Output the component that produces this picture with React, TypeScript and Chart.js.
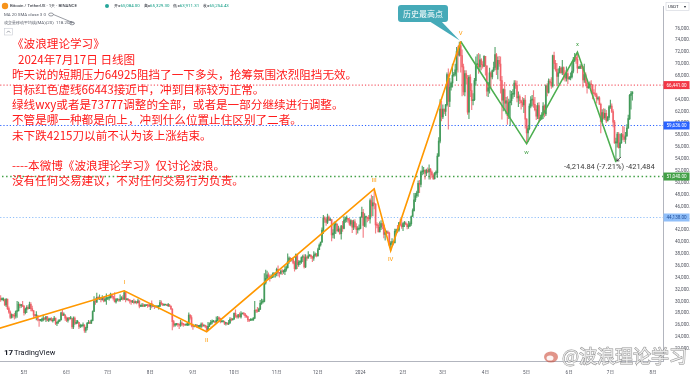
import { useEffect, useRef } from 'react';
import { Chart, registerables } from 'chart.js';
Chart.register(...registerables);

// Daily BTC/USDT candles (in thousands USDT), index 0 = 2023-04-14 ... 460 = 2024-07-17
const FIRST_OPEN = 30.5;
const closes = [
  // Apr 2023 (14-30)
  30.3,30.3,30.3,29.4,30.4,28.8,28.2,27.3,27.8,27.6,27.5,28.3,28.4,29.5,29.3,29.3,29.2,
  // May 2023
  28.1,28.7,29.0,28.8,29.5,28.8,28.4,27.7,27.6,27.6,27.0,26.8,26.8,26.9,27.2,27.0,27.4,26.8,26.9,27.1,26.7,26.8,27.2,26.3,26.5,26.7,26.9,28.1,27.7,27.7,27.2,
  // Jun 2023
  26.8,27.2,27.1,27.1,25.7,27.2,26.3,26.5,26.5,25.8,25.9,25.9,26.0,25.1,25.6,26.3,26.5,26.3,26.8,28.3,30.0,29.9,30.7,30.5,30.5,30.3,30.7,30.1,30.4,30.5,
  // Jul 2023
  30.6,30.6,31.2,30.8,30.5,29.9,30.3,30.3,30.2,30.4,30.6,30.4,31.5,30.3,30.3,30.2,30.1,29.9,29.9,29.8,29.9,29.8,30.1,29.2,29.2,29.4,29.2,29.3,29.4,29.3,29.2,
  // Aug 2023
  29.7,29.2,29.2,29.1,29.1,29.1,29.2,29.8,29.6,29.4,29.4,29.4,29.3,29.4,29.2,28.7,26.6,26.0,26.1,26.2,26.1,26.0,26.4,26.2,26.1,26.0,26.1,26.1,27.7,27.3,25.9,
  // Sep 2023
  25.8,25.9,26.0,25.8,25.8,25.8,26.2,25.9,25.9,25.8,25.2,25.8,26.2,26.5,26.6,26.6,26.5,26.8,27.2,27.1,26.6,26.6,26.6,26.3,26.3,26.2,26.4,27.0,26.9,27.0,
  // Oct 2023
  28.0,27.5,27.4,27.8,27.4,27.9,28.0,27.9,27.6,27.4,26.9,26.8,26.9,26.9,27.2,28.5,28.4,28.3,28.7,29.7,29.9,30.0,33.1,33.9,34.5,34.2,33.9,34.1,34.5,34.5,34.7,
  // Nov 2023
  35.4,34.9,34.7,35.1,35.0,35.0,35.4,35.7,36.7,37.3,37.1,37.1,36.5,35.5,37.9,36.2,36.6,36.6,37.4,37.5,35.8,37.4,37.3,37.7,37.8,37.5,37.3,37.8,37.9,37.7,
  // Dec 2023
  38.7,39.5,40.0,42.0,44.1,43.8,43.3,44.2,43.7,43.8,41.2,41.5,42.9,43.0,41.9,42.2,41.4,42.7,42.3,43.7,43.9,44.0,43.7,43.0,43.6,42.5,43.4,42.6,42.1,42.2,42.3,
  // Jan 2024
  44.2,45.0,42.8,44.2,44.2,44.0,43.9,47.0,46.1,46.6,46.4,42.9,42.8,41.7,42.5,43.1,42.8,41.3,41.6,41.7,41.5,39.5,39.8,40.1,39.9,41.8,42.1,42.0,43.3,42.9,42.6,
  // Feb 2024
  43.1,43.2,43.0,42.6,42.7,43.1,44.3,45.3,47.1,47.8,48.3,49.9,49.7,51.8,51.9,52.1,51.6,52.1,51.8,52.3,51.8,51.3,50.7,51.6,51.7,54.5,57.0,62.4,61.1,
  // Mar 2024
  62.4,62.0,63.1,68.2,63.7,66.1,66.8,68.1,68.3,69.0,72.1,71.5,73.1,71.4,69.5,65.3,68.4,67.6,61.9,67.8,65.5,63.8,64.0,67.2,69.9,70.0,69.5,70.7,69.9,69.6,71.3,
  // Apr 2024
  69.7,65.4,66.0,68.5,67.8,68.9,69.4,71.6,69.1,70.6,70.0,67.2,63.9,65.7,63.4,63.8,61.3,63.5,63.8,64.9,64.9,66.8,66.4,64.3,64.5,63.8,63.5,63.1,63.9,60.7,
  // May 2024
  58.4,59.1,62.9,63.9,64.0,63.2,62.3,61.2,63.0,60.8,60.8,61.4,62.9,61.6,66.3,65.2,67.1,66.9,66.3,71.4,70.1,69.1,67.9,68.5,69.3,68.5,69.4,68.3,67.6,68.4,67.5,
  // Jun 2024
  67.7,67.8,68.8,70.6,71.1,70.8,69.3,69.3,69.6,69.5,67.3,68.2,66.8,66.0,66.2,66.6,66.5,65.1,65.0,64.8,64.1,64.3,63.2,60.3,61.8,60.9,61.7,60.4,61.0,62.8,
  // Jul 2024 (1-17)
  62.9,62.0,60.2,56.7,56.7,58.2,55.9,56.7,58.1,57.7,57.3,57.9,59.2,60.8,64.7,65.0,65.3,
];
const highs = [
  31.0,30.6,30.6,30.3,30.5,30.4,29.1,28.4,27.9,27.8,28.0,28.4,30.0,29.9,29.6,29.5,30.0,
  29.3,28.9,29.3,29.3,29.9,29.8,29.2,28.5,27.8,28.3,27.6,27.0,27.0,27.2,27.7,27.3,27.5,27.5,27.2,27.2,27.3,27.1,27.5,27.2,26.6,26.9,26.9,28.2,28.5,28.1,27.8,
  27.4,27.3,27.3,27.5,27.1,27.4,27.4,26.8,26.8,26.5,26.2,26.0,26.4,26.1,25.7,26.5,26.8,26.7,26.9,28.4,30.8,30.5,31.4,30.8,31.1,30.7,31.0,30.7,30.8,31.3,
  30.7,30.8,31.4,31.3,30.9,31.5,30.5,30.4,30.4,31.1,30.8,31.0,31.8,31.6,30.4,30.5,30.3,30.2,30.2,30.4,30.1,30.0,30.4,30.1,29.4,29.7,29.6,29.5,29.4,29.5,29.5,
  29.7,30.1,29.4,29.3,29.2,29.2,29.3,30.2,30.1,29.7,29.5,29.5,29.5,29.7,29.5,29.2,28.8,26.8,26.3,26.3,26.3,26.1,26.8,26.6,26.3,26.1,26.2,26.3,28.1,27.8,27.6,
  26.2,26.0,26.1,26.1,25.9,26.0,26.4,26.4,25.9,26.0,25.9,26.5,26.4,26.8,26.9,26.8,26.6,27.4,27.5,27.4,27.2,26.7,26.6,26.7,26.4,26.4,26.8,27.3,27.2,27.1,
  28.1,28.6,27.7,27.8,28.1,28.3,28.0,28.1,28.0,27.7,27.5,26.9,27.1,27.0,27.3,30.0,28.6,29.0,28.9,30.2,30.4,30.3,34.7,35.3,35.1,34.8,34.5,34.5,34.8,34.9,34.7,
  35.6,36.0,34.9,35.3,35.4,35.3,35.9,36.0,38.0,37.5,37.4,37.2,37.4,36.8,38.0,37.9,36.9,36.9,37.5,37.8,37.9,37.9,37.7,38.4,37.9,37.8,37.6,38.4,38.2,38.1,
  39.0,39.7,40.0,42.4,44.5,44.3,44.1,44.7,44.4,44.0,43.8,42.1,43.4,43.4,43.1,42.7,42.4,42.8,43.5,44.3,44.2,44.4,44.0,44.0,43.8,43.6,43.7,43.8,43.1,42.6,42.9,
  44.2,45.9,45.5,44.8,44.3,44.2,44.5,47.3,47.9,47.7,49.0,46.5,43.3,43.1,43.4,43.6,43.2,42.9,42.2,41.9,41.9,41.7,40.1,40.6,40.1,42.2,42.2,42.8,43.3,43.9,43.8,
  43.3,43.5,43.4,43.1,43.5,43.4,44.4,45.6,48.2,48.2,48.6,50.3,50.4,52.0,52.8,52.6,52.2,52.3,52.5,53.0,52.4,52.0,51.5,51.7,52.0,54.9,57.6,64.0,63.7,
  63.1,62.4,63.2,68.5,69.2,67.6,67.0,70.0,68.6,70.0,72.8,73.0,73.7,73.8,72.4,70.0,68.9,68.9,68.1,68.1,68.2,66.7,65.0,67.6,71.2,71.6,71.8,71.6,70.9,70.4,71.4,
  71.3,69.7,66.9,69.3,68.7,69.0,70.3,72.8,71.8,71.2,71.3,71.2,67.9,65.8,66.9,64.4,64.5,64.1,65.5,65.4,65.7,67.2,67.2,67.1,65.3,64.8,63.9,64.4,64.2,64.7,
  60.8,59.6,63.3,64.5,64.7,65.5,64.4,63.0,63.4,63.5,61.4,61.8,63.5,63.1,66.5,66.7,67.5,67.4,67.7,71.5,72.0,70.6,70.1,69.2,69.6,69.5,70.6,69.5,68.9,69.5,69.0,
  67.9,68.5,70.3,71.1,71.8,71.6,72.0,69.6,69.9,70.2,69.6,70.0,68.5,67.3,66.4,67.0,67.2,66.5,65.7,66.5,65.1,64.5,64.5,63.4,62.3,62.5,62.4,62.2,61.2,63.0,
  63.9,63.3,62.3,60.5,57.5,58.5,58.5,58.2,58.3,59.5,59.4,58.5,59.8,61.4,64.9,65.4,65.3,
];
const lows = [
  30.0,30.2,30.1,29.3,29.1,28.6,28.0,27.1,27.2,27.3,27.0,27.2,27.3,28.4,28.9,29.0,29.1,
  27.7,27.9,28.1,28.7,28.8,28.4,28.4,27.3,27.4,26.9,26.7,25.8,26.7,26.6,26.7,26.9,26.6,26.7,26.6,26.9,26.7,26.5,26.8,26.1,25.9,26.3,26.6,26.9,27.6,27.6,26.8,
  26.6,26.5,26.9,27.0,25.4,25.4,26.1,26.2,26.3,25.4,25.6,25.7,25.7,24.8,24.8,25.2,26.3,26.3,26.3,26.7,28.3,29.5,29.8,30.3,30.3,29.9,30.2,29.9,30.0,29.5,
  30.3,30.2,30.6,30.6,30.2,29.9,29.7,30.1,30.0,30.0,30.3,30.2,30.3,29.9,30.2,30.1,29.7,29.5,29.8,29.6,29.7,29.6,29.7,28.9,29.1,29.1,29.1,29.1,29.3,29.0,29.1,
  28.6,28.9,29.1,28.8,29.0,29.0,28.7,29.1,29.4,29.3,29.3,29.4,29.3,29.1,29.1,28.7,25.2,25.7,25.8,26.0,25.8,25.4,25.8,25.9,25.8,26.0,26.0,25.9,25.9,27.0,25.7,
  25.3,25.7,25.8,25.6,25.6,25.4,25.6,25.7,25.8,25.6,24.9,25.1,25.8,26.1,26.2,26.5,26.4,26.4,26.7,26.9,26.4,26.5,26.5,26.1,26.0,26.1,26.1,26.3,26.7,26.9,
  27.0,27.3,27.2,27.2,27.4,27.2,27.9,27.7,27.3,27.3,26.6,26.6,26.8,26.8,26.8,27.1,28.1,28.2,28.3,28.6,29.5,29.7,29.9,32.9,33.7,33.7,33.4,33.9,34.0,34.1,34.1,
  34.3,34.3,34.1,34.6,34.5,34.7,34.5,35.1,35.6,36.4,36.7,36.8,36.3,35.1,35.4,35.5,35.9,36.2,36.4,36.7,35.6,35.7,36.9,37.3,37.6,37.2,36.7,36.9,37.6,37.5,
  37.6,38.7,39.3,40.0,41.4,43.3,42.8,43.1,43.6,43.6,40.2,40.7,40.6,41.4,41.7,41.7,41.3,40.5,41.8,42.2,43.3,43.4,43.3,42.8,42.7,41.6,42.1,42.3,41.3,41.5,42.0,
  42.2,44.2,40.8,42.6,42.5,43.4,43.6,43.2,44.3,44.4,45.6,41.5,42.4,41.7,41.7,42.1,42.2,40.7,40.3,41.4,41.4,39.4,38.6,39.5,39.5,39.8,41.4,41.6,41.8,42.7,42.3,
  41.9,42.6,42.9,42.2,42.3,42.6,42.8,44.3,45.2,46.8,47.5,47.7,48.3,49.3,51.3,51.5,50.6,51.2,51.7,50.6,50.6,50.9,50.5,50.6,51.3,50.9,54.4,56.7,60.4,
  60.8,61.6,61.3,62.9,59.0,62.8,65.6,66.1,67.9,68.0,67.2,68.6,71.3,68.6,64.6,64.8,64.6,66.6,61.5,60.8,64.5,62.3,63.1,63.8,66.4,69.3,68.4,68.9,69.0,69.3,69.6,
  68.1,64.6,64.5,65.1,66.0,67.5,68.7,69.0,68.2,67.5,69.6,65.1,60.7,62.1,62.3,61.6,59.8,60.8,59.6,63.1,64.2,64.5,65.9,63.6,62.8,63.3,62.4,62.8,61.8,59.2,
  56.6,56.9,58.9,62.6,62.9,62.7,62.1,60.6,60.8,60.2,60.5,60.6,60.8,61.1,61.3,64.6,65.1,66.6,65.9,66.1,69.2,68.8,66.3,66.6,68.5,68.5,68.2,67.3,67.1,67.1,66.7,
  67.4,67.3,67.6,68.5,70.4,70.1,68.5,69.2,69.2,69.2,66.1,66.9,66.3,65.1,65.9,66.0,65.1,64.1,64.7,64.5,63.4,63.9,63.2,58.4,60.3,60.7,60.6,60.1,60.4,60.6,
  62.5,61.8,59.4,56.6,53.5,56.0,55.8,54.3,56.6,57.2,56.9,56.6,57.8,59.2,60.6,62.4,63.9,
];

// Time axis: month starts (day index) and their labels
const monthTickIdx = [17, 48, 78, 109, 140, 170, 201, 231, 262, 293, 322, 353, 383, 414, 444, 475];
const monthTickLabels = ['5月', '6月', '7月', '8月', '9月', '10月', '11月', '12月', '2024', '2月', '3月', '4月', '5月', '6月', '7月', '8月'];
// Price axis ticks (thousands)
const priceTicks = [22, 24, 26, 28, 30, 32, 34, 36, 38, 40, 42, 44, 46, 48, 50, 52, 54, 56, 58, 60, 62, 64, 66, 68, 70, 72, 74, 76];

// Elliott wave drawings
const orangeWaveIdx = [-144, 90, 150, 272, 284, 335];
const orangeWaveVal = [15.48, 31.8, 24.9, 48.97, 38.56, 73.78];
const orangeWaveLabels = ['', 'I', 'II', 'III', 'IV', 'V'];
const greenWaveIdx = [335, 383, 420, 448];
const greenWaveVal = [73.78, 56.55, 72.0, 53.49];
const greenWaveLabels = ['', 'w', 'x', ''];

// Horizontal levels
const levelValues = [66.441, 59.636, 51.04, 44.138];
const levelLabels = ['66,441.00', '59,636.00', '51,040.00', '44,138.00'];
const levelColors = ['#f23645', '#2962ff', '#43a047', '#90bff9'];
const levelTextColors = ['#ffffff', '#ffffff', '#ffffff', '#1e4d9a'];

const noteLines = [
  '《波浪理论学习》',
  '2024年7月17日 日线图',
  '昨天说的短期压力64925阻挡了一下多头，抢筹氛围浓烈阻挡无效。',
  '目标红色虚线66443接近中，冲到目标较为正常。',
  '绿线wxy或者是73777调整的全部，或者是一部分继续进行调整。',
  '不管是哪一种都是向上，冲到什么位置止住区别了二者。',
  '未下跌4215刀以前不认为该上涨结束。',
  '',
  '----本微博《波浪理论学习》仅讨论波浪。',
  '没有任何交易建议，不对任何交易行为负责。',
];

const UP = 'rgba(60,150,85,0.85)';
const DOWN = 'rgba(240,85,95,0.75)';
const CJK = '"Noto Sans CJK SC", sans-serif';

const overlayPlugin = {
  id: 'overlay',
  afterDraw(chart: any) {
    const { ctx, chartArea: ca, scales } = chart;
    const xs = scales.x;
    const ys = scales.y;
    ctx.save();

    // wave labels
    const waveLabels = (idx: number[], val: number[], labels: string[], color: string) => {
      ctx.fillStyle = color;
      ctx.font = '6px Roboto';
      ctx.textAlign = 'center';
      ctx.textBaseline = 'middle';
      labels.forEach((lab, i) => {
        if (!lab) return;
        const px = xs.getPixelForValue(idx[i]);
        const py = ys.getPixelForValue(val[i]);
        const up = i > 0 && val[i] > val[i - 1];
        ctx.fillText(lab, px, py + (up ? -8 : 9));
      });
    };
    waveLabels(orangeWaveIdx, orangeWaveVal, orangeWaveLabels, '#ff9800');
    waveLabels(greenWaveIdx, greenWaveVal, greenWaveLabels, '#43a047');

    // callout 历史最高点
    const vx = xs.getPixelForValue(orangeWaveIdx[5]);
    const vy = ys.getPixelForValue(orangeWaveVal[5]);
    ctx.fillStyle = '#45aab8';
    ctx.beginPath();
    ctx.moveTo(429, 21);
    ctx.lineTo(441, 21);
    ctx.lineTo(vx - 1, vy - 1);
    ctx.closePath();
    ctx.fill();
    ctx.beginPath();
    (ctx as any).roundRect(398, 5, 50, 17, 3);
    ctx.fill();
    ctx.fillStyle = '#ffffff';
    ctx.font = `8px ${CJK}`;
    ctx.textAlign = 'center';
    ctx.textBaseline = 'middle';
    ctx.fillText('历史最高点', 423, 13.5);

    // measurement text and arrow
    ctx.save();
    ctx.beginPath();
    ctx.rect(ca.left, ca.top, ca.right - ca.left, ca.bottom - ca.top);
    ctx.clip();
    ctx.fillStyle = '#3a3a3a';
    ctx.font = '7.5px Roboto';
    ctx.textAlign = 'left';
    ctx.fillText('-4,214.84 (-7.21%) -421,484', 564, 167);
    const yx = xs.getPixelForValue(greenWaveIdx[3]);
    const yy = ys.getPixelForValue(greenWaveVal[3]);
    ctx.strokeStyle = '#222';
    ctx.lineWidth = 0.8;
    ctx.beginPath();
    ctx.moveTo(yx + 5, yy - 5);
    ctx.lineTo(yx + 1, yy - 1);
    ctx.moveTo(yx + 1, yy - 1);
    ctx.lineTo(yx + 3.5, yy - 1.2);
    ctx.moveTo(yx + 1, yy - 1);
    ctx.lineTo(yx + 1.2, yy - 3.5);
    ctx.stroke();
    ctx.restore();

    // level labels on price axis
    ctx.font = '4.6px Roboto';
    ctx.textAlign = 'left';
    ctx.textBaseline = 'middle';
    levelValues.forEach((v, i) => {
      const py = ys.getPixelForValue(v);
      ctx.fillStyle = levelColors[i];
      ctx.fillRect(ca.right + 0.5, py - 4, 26, 8);
      ctx.fillStyle = levelTextColors[i];
      ctx.fillText(levelLabels[i], ca.right + 3.5, py + 0.3);
    });

    // USDT box
    ctx.strokeStyle = '#d1d4dc';
    ctx.lineWidth = 0.6;
    ctx.strokeRect(666, 2.5, 23, 8);
    ctx.fillStyle = '#131722';
    ctx.font = '4.3px Roboto';
    ctx.fillText('USDT', 668, 6.7);
    ctx.fillText('▾', 684, 6.7);

    // header
    ctx.fillStyle = '#f7931a';
    ctx.beginPath();
    ctx.arc(5, 6, 3.2, 0, Math.PI * 2);
    ctx.fill();
    ctx.fillStyle = '#131722';
    ctx.font = `4.4px Roboto`;
    ctx.fillText('Bitcoin / TetherUS · 1天 · BINANCE', 10, 6.3);
    ctx.fillStyle = '#26a69a';
    ctx.beginPath();
    ctx.arc(107, 6, 2, 0, Math.PI * 2);
    ctx.fill();
    const ohlc = [['开', '65,084.00'], ['高', '65,329.30'], ['低', '63,911.31'], ['收', '65,254.43']];
    let hx = 114;
    ohlc.forEach(([k, v]) => {
      ctx.fillStyle = '#131722';
      ctx.fillText(k + '=', hx, 6.3);
      hx += ctx.measureText(k + '=').width;
      ctx.fillStyle = '#089981';
      ctx.fillText(v, hx, 6.3);
      hx += ctx.measureText(v).width + 4;
    });
    ctx.fillStyle = '#555a66';
    ctx.fillText('MA 20 SMA close 3 0', 4, 14.5);
    ctx.fillText('成交量移动平均线(MA)(20)  118.203', 4, 23.3);
    ctx.strokeStyle = '#555a66';
    ctx.lineWidth = 0.6;
    ctx.beginPath();
    ctx.ellipse(51, 14.5, 2.4, 1.5, 0, 0, Math.PI * 2);
    ctx.ellipse(72, 23.3, 2.4, 1.5, 0, 0, Math.PI * 2);
    ctx.stroke();
    ctx.strokeStyle = '#c9ccd4';
    ctx.strokeRect(4.5, 28.5, 8, 6.5);
    ctx.strokeStyle = '#555a66';
    ctx.beginPath();
    ctx.moveTo(6.8, 32.6);
    ctx.lineTo(8.5, 30.9);
    ctx.lineTo(10.2, 32.6);
    ctx.stroke();

    // red notes
    ctx.fillStyle = '#ff1a1a';
    ctx.font = `11.6px ${CJK}`;
    ctx.textBaseline = 'middle';
    noteLines.forEach((line, i) => {
      if (!line) return;
      ctx.fillText(line, i === 1 ? 18 : 12, 44 + 15.2 * i);
    });

    // TradingView logo
    ctx.fillStyle = '#131722';
    ctx.font = 'bold 8px Roboto';
    ctx.fillText('17', 4, 353);
    ctx.font = '7.5px Roboto';
    ctx.fillText('TradingView', 14, 353);

    // watermark
    ctx.fillStyle = 'rgba(200,60,40,0.55)';
    ctx.beginPath();
    ctx.ellipse(551, 357, 7, 5.5, 0, 0, Math.PI * 2);
    ctx.fill();
    ctx.fillStyle = 'rgba(255,255,255,0.9)';
    ctx.beginPath();
    ctx.ellipse(550, 358, 3.5, 2.6, 0, 0, Math.PI * 2);
    ctx.fill();
    ctx.font = `18px ${CJK}`;
    ctx.textBaseline = 'middle';
    ctx.lineWidth = 1;
    ctx.strokeStyle = 'rgba(110,110,110,0.75)';
    ctx.fillStyle = 'rgba(255,255,255,0.75)';
    ctx.strokeText('@波浪理论学习', 562, 356);
    ctx.fillText('@波浪理论学习', 562, 356);

    ctx.restore();
  },
};

export default function App() {
  const ref = useRef<HTMLCanvasElement>(null);
  useEffect(() => {
    document.body.style.margin = '0';
    const opens = closes.map((c, i) => (i === 0 ? FIRST_OPEN : closes[i - 1]));
    const bodies = closes.map((c, i) => ({ x: i, y: [opens[i], c] }));
    const wicks = closes.map((c, i) => ({
      x: i,
      y: [Math.min(lows[i], opens[i], c), Math.max(highs[i], opens[i], c)],
    }));
    const colors = closes.map((c, i) => (c >= opens[i] ? UP : DOWN));

    const levelSets = levelValues.map((v, i) => ({
      type: 'line' as const,
      data: [{ x: -5, y: v }, { x: 490, y: v }],
      borderColor: levelColors[i],
      borderWidth: i === 2 ? 1.5 : 1,
      borderDash: i === 2 ? [1.5, 2.6] : [1.2, 2],
      pointRadius: 0,
      order: 5,
    }));

    const chart = new Chart(ref.current!, {
      type: 'bar',
      data: {
        datasets: [
          {
            type: 'line',
            data: orangeWaveIdx.map((x, i) => ({ x, y: orangeWaveVal[i] })),
            borderColor: '#ff9800',
            borderWidth: 1.6,
            pointRadius: 0,
            tension: 0,
            order: 0,
          },
          {
            type: 'line',
            data: greenWaveIdx.map((x, i) => ({ x, y: greenWaveVal[i] })),
            borderColor: '#4caf50',
            borderWidth: 1.6,
            pointRadius: 0,
            tension: 0,
            order: 0,
          },
          {
            type: 'bar',
            data: bodies as any,
            backgroundColor: colors,
            barThickness: 1.1,
            minBarLength: 1,
            grouped: false,
            borderWidth: 0,
            order: 2,
          },
          {
            type: 'bar',
            data: wicks as any,
            backgroundColor: colors,
            barThickness: 0.5,
            grouped: false,
            borderWidth: 0,
            order: 3,
          },
          ...levelSets,
        ] as any,
      },
      options: {
        animation: false,
        responsive: false,
        devicePixelRatio: 1,
        layout: { padding: 0 },
        plugins: { legend: { display: false }, tooltip: { enabled: false } },
        scales: {
          x: {
            type: 'linear',
            min: -0.47,
            max: 482.3,
            offset: false,
            grid: { display: false },
            border: { display: true, color: '#b2b5be', width: 1 },
            afterBuildTicks: (s: any) => {
              s.ticks = monthTickIdx.map((v) => ({ value: v }));
            },
            afterFit: (s: any) => {
              s.height = 13;
            },
            ticks: {
              autoSkip: false,
              maxRotation: 0,
              padding: 1,
              color: '#50535e',
              font: { size: 4.6, family: `Roboto, ${CJK}` },
              callback: (_v: any, i: number) => monthTickLabels[i],
            },
          },
          y: {
            type: 'linear',
            position: 'right',
            min: 19.967,
            max: 79.636,
            grid: { display: false },
            border: { display: true, color: '#b2b5be', width: 1 },
            afterBuildTicks: (s: any) => {
              s.ticks = priceTicks.map((v) => ({ value: v }));
            },
            afterFit: (s: any) => {
              s.width = 27;
            },
            ticks: {
              padding: 4,
              color: '#50535e',
              font: { size: 4.6, family: 'Roboto' },
              callback: (v: any) =>
                (Number(v) * 1000).toLocaleString('en-US', { minimumFractionDigits: 2, maximumFractionDigits: 2 }),
            },
          },
        },
      },
      plugins: [overlayPlugin],
    } as any);
    return () => chart.destroy();
  }, []);
  return (
    <div style={{ position: 'fixed', left: 0, top: 0, width: 690, height: 374, background: '#fff' }}>
      <canvas ref={ref} width={690} height={374} style={{ width: 690, height: 374, display: 'block' }} />
    </div>
  );
}
